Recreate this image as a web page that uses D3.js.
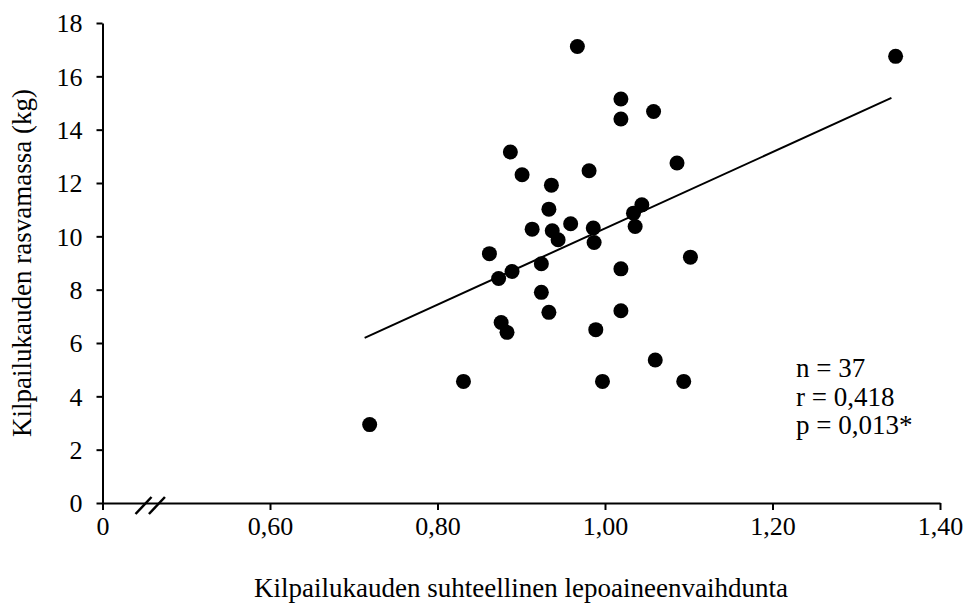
<!DOCTYPE html>
<html>
<head>
<meta charset="utf-8">
<script src="https://cdn.jsdelivr.net/npm/d3@7"></script>
<style>
  body { margin: 0; background: #fff; }
  text { font-family: "Liberation Serif", "Times New Roman", serif; fill: #000; }
</style>
</head>
<body>
<div id="chart"></div>
<script>
// data
const xValues = [0.719, 0.831, 0.862, 0.873, 0.889, 0.876, 0.883, 0.887, 0.901, 0.936,
  0.967, 1.019, 1.019, 1.058, 0.981, 0.933, 0.913, 0.937, 0.944, 0.959,
  0.986, 0.987, 1.044, 1.034, 1.036, 0.924, 0.924, 0.933, 0.989, 1.019,
  1.019, 1.060, 0.997, 1.347, 1.086, 1.102, 1.094];
const yValues = [2.94, 4.56, 9.35, 8.42, 8.68, 6.77, 6.40, 13.16, 12.31, 11.92,
  17.12, 15.15, 14.40, 14.68, 12.46, 11.02, 10.27, 10.21, 9.87, 10.47,
  10.31, 9.77, 11.18, 10.87, 10.37, 8.97, 7.90, 7.15, 6.50, 8.78,
  7.21, 5.36, 4.56, 16.75, 12.75, 9.22, 4.56];
const trendX = [0.713, 1.342];
const trendY = [6.19, 15.19];
const xTicks = [0.4, 0.6, 0.8, 1.0, 1.2, 1.4];
const xTickLabels = ["0", "0,60", "0,80", "1,00", "1,20", "1,40"];
const yTicks = [0, 2, 4, 6, 8, 10, 12, 14, 16, 18];
const statLines = ["n = 37", "r = 0,418", "p = 0,013*"];

const width = 970;
const height = 605;

const svg = d3.select("#chart")
    .append("svg")
    .attr("width", width)
    .attr("height", height);

const x = d3.scaleLinear().domain([0.4, 1.4]).range([102.5, 940]);
const y = d3.scaleLinear().domain([0, 18]).range([503, 23]);

// axes
const xAxis = svg.append("g")
    .attr("transform", `translate(0,${y(0)})`)
    .call(d3.axisBottom(x).tickValues(xTicks).tickSize(7).tickSizeOuter(0)
        .tickFormat((d, i) => xTickLabels[i]));

const yAxis = svg.append("g")
    .attr("transform", `translate(${x(0.4)},0)`)
    .call(d3.axisLeft(y).tickValues(yTicks).tickSize(6).tickSizeOuter(0));

[xAxis, yAxis].forEach(a => {
    a.attr("font-family", '"Liberation Serif", serif').attr("font-size", 26);
    a.select(".domain").attr("stroke", "#000").attr("stroke-width", 2);
    a.selectAll(".tick line").attr("stroke", "#000").attr("stroke-width", 2);
    a.selectAll(".tick text")
        .style("font-family", '"Liberation Serif", serif')
        .style("font-size", "26px")
        .attr("fill", "#000");
});
xAxis.selectAll(".tick text").attr("y", 14).attr("dy", "0.71em");
yAxis.selectAll(".tick text").attr("x", -20).attr("dy", "0.34em");

// axis break marks
const breakX = [0.449, 0.465];
svg.append("g").selectAll("line")
    .data(breakX)
    .enter()
    .append("line")
    .attr("x1", d => x(d) - 8)
    .attr("y1", y(0) + 11)
    .attr("x2", d => x(d) + 8)
    .attr("y2", y(0) - 6)
    .attr("stroke", "#000")
    .attr("stroke-width", 2.5);

// trend line
svg.append("line")
    .attr("x1", x(trendX[0]))
    .attr("y1", y(trendY[0]))
    .attr("x2", x(trendX[1]))
    .attr("y2", y(trendY[1]))
    .attr("stroke", "#000")
    .attr("stroke-width", 2);

// points
svg.append("g").selectAll("circle")
    .data(xValues.map((d, i) => ({x: d, y: yValues[i]})))
    .enter()
    .append("circle")
    .attr("cx", d => x(d.x))
    .attr("cy", d => y(d.y))
    .attr("r", 7.5)
    .attr("fill", "#000");

// statistics text
svg.append("g").selectAll("text")
    .data(statLines)
    .enter()
    .append("text")
    .attr("x", 796)
    .attr("y", (d, i) => 377 + i * 28.5)
    .style("font-size", "27px")
    .text(d => d);

// axis titles
svg.append("text")
    .attr("x", 521)
    .attr("y", 597)
    .attr("text-anchor", "middle")
    .style("font-size", "27px")
    .text("Kilpailukauden suhteellinen lepoaineenvaihdunta");

svg.append("text")
    .attr("transform", "translate(31,263) rotate(-90)")
    .attr("text-anchor", "middle")
    .style("font-size", "27px")
    .text("Kilpailukauden rasvamassa (kg)");
</script>
</body>
</html>
